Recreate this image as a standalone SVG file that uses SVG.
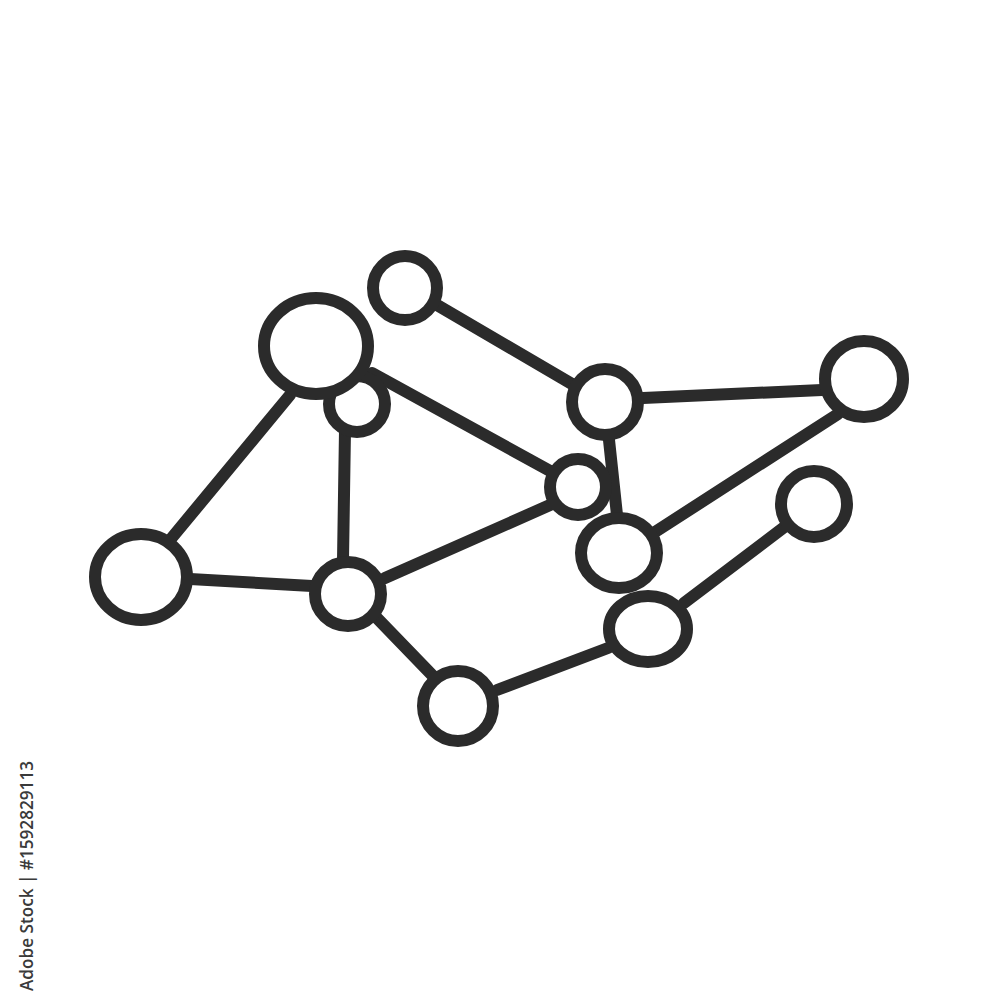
<svg xmlns="http://www.w3.org/2000/svg" width="1000" height="1000" viewBox="0 0 1000 1000">
<style>
.edge{stroke:#2b2b2b;stroke-width:12;stroke-linecap:round;fill:none}
.node{stroke:#2b2b2b;stroke-width:12;fill:#ffffff}
.wm{font-family:"Open Sans","Liberation Sans",sans-serif;font-weight:600;font-size:18.5px;fill:#3a3a3a}
</style>
<rect width="1000" height="1000" fill="#ffffff"/>
<g id="connectors">
<line class="edge" x1="170" y1="540" x2="290" y2="395"/>
<line class="edge" x1="190" y1="579" x2="312" y2="586"/>
<line class="edge" x1="437" y1="305" x2="572" y2="384"/>
<line class="edge" x1="372" y1="373" x2="552" y2="472"/>
<line class="edge" x1="345" y1="430" x2="343" y2="560"/>
<line class="edge" x1="385" y1="578" x2="550" y2="505"/>
<line class="edge" x1="375" y1="616" x2="433" y2="676"/>
<line class="edge" x1="497" y1="690" x2="608" y2="648"/>
<line class="edge" x1="643" y1="398" x2="822" y2="390"/>
<line class="edge" x1="609" y1="440" x2="617" y2="515"/>
<line class="edge" x1="838" y1="414" x2="655" y2="532"/>
<line class="edge" x1="787" y1="525" x2="684" y2="603"/>
</g>
<g id="node-left"><ellipse class="node" cx="141" cy="577" rx="46" ry="43"/></g>
<g id="node-small-behind"><circle class="node" cx="357" cy="404" r="28"/></g>
<g id="node-top-left"><ellipse class="node" cx="316" cy="346" rx="52" ry="48"/></g>
<g id="node-top"><circle class="node" cx="405" cy="288" r="32"/></g>
<g id="node-mid-left"><ellipse class="node" cx="348" cy="594" rx="33" ry="32"/></g>
<g id="node-bottom"><circle class="node" cx="458" cy="706" r="35"/></g>
<g id="node-center"><circle class="node" cx="578" cy="487" r="28"/></g>
<g id="node-right-top"><circle class="node" cx="605" cy="402" r="33"/></g>
<g id="node-far-right"><ellipse class="node" cx="864" cy="379" rx="39" ry="38"/></g>
<g id="node-right"><circle class="node" cx="814" cy="504" r="33"/></g>
<g id="node-center-lower"><ellipse class="node" cx="619" cy="553" rx="38" ry="35"/></g>
<g id="node-lower-right"><ellipse class="node" cx="648" cy="629" rx="39" ry="33"/></g>
<text class="wm" transform="translate(33,876) rotate(-90)" text-anchor="middle" textLength="230" lengthAdjust="spacingAndGlyphs">Adobe Stock | #1592829113</text>
</svg>
